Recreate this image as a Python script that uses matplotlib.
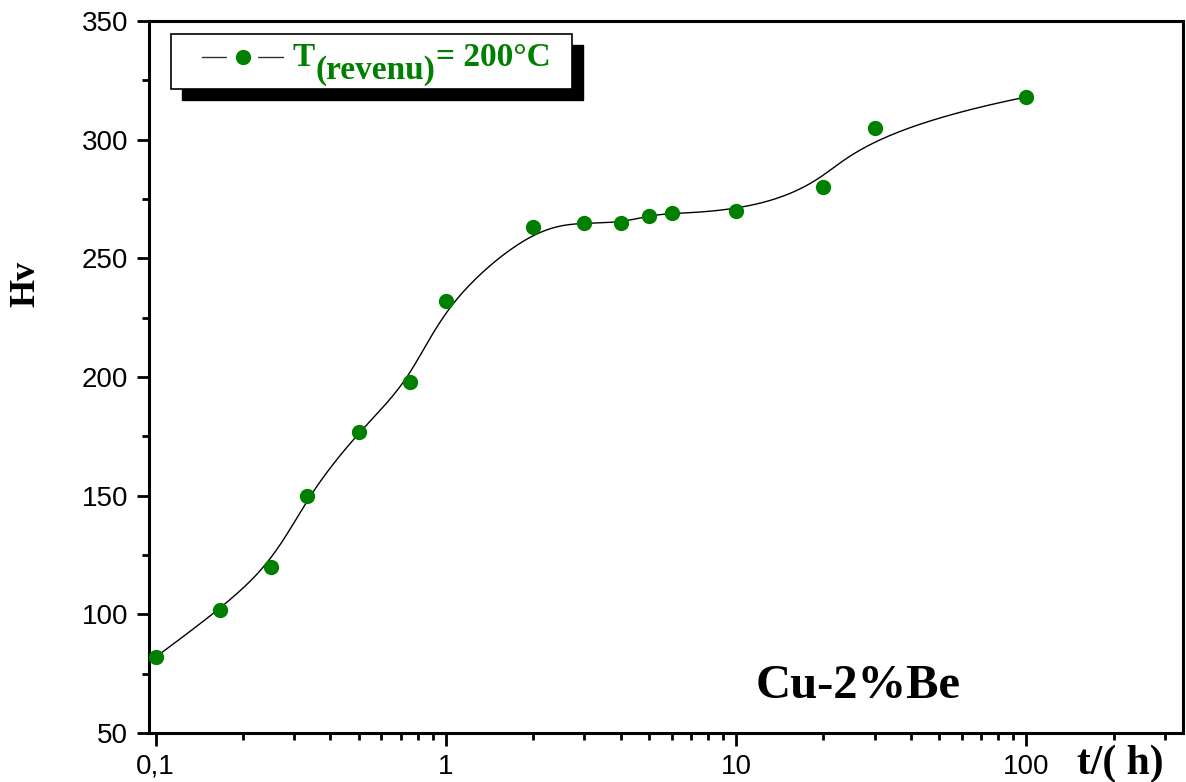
import matplotlib.pyplot as plt
import numpy as np
from matplotlib.patches import Rectangle
from matplotlib.lines import Line2D
from matplotlib.ticker import FixedLocator, LogLocator, MultipleLocator, NullFormatter

# ageing time (h) and Vickers hardness, Cu-2%Be aged at 200 °C
time_h = [0.1, 1 / 6, 0.25, 1 / 3, 0.5, 0.75, 1, 2, 3, 4, 5, 6, 10, 20, 30, 100]
hardness = [82, 102, 120, 150, 177, 198, 232, 263, 265, 265, 268, 269, 270, 280, 305, 318]

x_ticks = [0.1, 1, 10, 100]
x_tick_labels = ['0,1', '1', '10', '100']

GREEN = '#008000'
SERIF = 'Liberation Serif'


def bspline(px, py, k=3, n=600):
    # clamped uniform B-spline using the points as control polygon
    p = np.column_stack([px, py])
    m = len(p)
    knots = np.concatenate([np.zeros(k), np.arange(m - k + 1), np.full(k, m - k)])
    u = np.linspace(0, m - k, n)
    out = []
    for t in u:
        j = min(np.searchsorted(knots, t, side='right') - 1, m - 1)
        d = [p[i].copy() for i in range(j - k, j + 1)]
        for r in range(1, k + 1):
            for i in range(k, r - 1, -1):
                a = (t - knots[i + j - k]) / (knots[i + 1 + j - r] - knots[i + j - k])
                d[i] = (1 - a) * d[i - 1] + a * d[i]
        out.append(d[k])
    out = np.array(out)
    return out[:, 0], out[:, 1]


fig = plt.figure(figsize=(11.86, 7.82), dpi=100)
ax = fig.add_axes([0.1256, 0.0627, 0.8719, 0.9104])

lx, ly = bspline(np.log10(time_h), hardness)
ax.plot(10 ** lx, ly, color='black', lw=1.0, zorder=2)
ax.plot(time_h, hardness, 'o', color=GREEN, ms=10, mec=GREEN, zorder=3)

ax.set_xscale('log')
ax.set_xlim(0.0948, 347)
ax.set_ylim(50, 350)

ax.xaxis.set_major_locator(FixedLocator(x_ticks))
ax.set_xticklabels(x_tick_labels)
ax.xaxis.set_minor_locator(LogLocator(base=10, subs=np.arange(2, 10)))
ax.xaxis.set_minor_formatter(NullFormatter())
ax.yaxis.set_major_locator(MultipleLocator(50))
ax.yaxis.set_minor_locator(MultipleLocator(25))

for s in ax.spines.values():
    s.set_linewidth(2.2)
ax.tick_params(which='major', direction='out', length=9, width=2, labelsize=20,
               labelfontfamily='Liberation Sans', pad=6)
ax.tick_params(which='minor', direction='out', length=5, width=2)
ax.tick_params(top=False, right=False)

fig.text(26 / 1186, 1 - 284 / 782, 'Hv', rotation=90, ha='center', va='center',
         fontsize=26, fontweight='bold', family=SERIF)
fig.text(1120 / 1186, 1 - 764 / 782, 't/( h)', ha='center', va='center',
         fontsize=30, fontweight='bold', family=SERIF)
fig.text(858 / 1186, 1 - 686 / 782, 'Cu-2%Be', ha='center', va='center',
         fontsize=35, fontweight='bold', family=SERIF)


# legend box with a solid black drop shadow
def fx(px):
    return (px - 149) / (1183 - 149)


def fy(py):
    return (733 - py) / (733 - 21)


ax.add_patch(Rectangle((fx(182), fy(100)), fx(583) - fx(182), fy(45) - fy(100),
                       transform=ax.transAxes, facecolor='black', edgecolor='black',
                       zorder=5, clip_on=False))
ax.add_patch(Rectangle((fx(171), fy(89)), fx(572) - fx(171), fy(34) - fy(89),
                       transform=ax.transAxes, facecolor='white', edgecolor='black',
                       lw=1.2, zorder=6, clip_on=False))
ax.add_line(Line2D([fx(202), fx(283)], [fy(57), fy(57)], transform=ax.transAxes,
                   color='#333333', lw=1.0, zorder=7))
ax.add_line(Line2D([fx(229), fx(256)], [fy(57), fy(57)], transform=ax.transAxes,
                   color='white', lw=3, zorder=7.5))
ax.add_line(Line2D([fx(243)], [fy(57)], transform=ax.transAxes, marker='o', ms=10,
                   color=GREEN, zorder=8))

style = dict(fontsize=24, fontweight='bold', color=GREEN, family=SERIF, zorder=9)
t1 = ax.text(fx(293), fy(66), 'T', transform=ax.transAxes, ha='left', va='baseline', **style)
t2 = ax.annotate('(revenu)', xy=(1, 0), xycoords=t1, xytext=(0, -9.5),
                 textcoords='offset points', ha='left', va='bottom', **style)
ax.annotate('= 200°C', xy=(1, 0), xycoords=t2, xytext=(1, 9.5),
            textcoords='offset points', ha='left', va='bottom', **style)

fig.savefig('out.png', dpi=100)
